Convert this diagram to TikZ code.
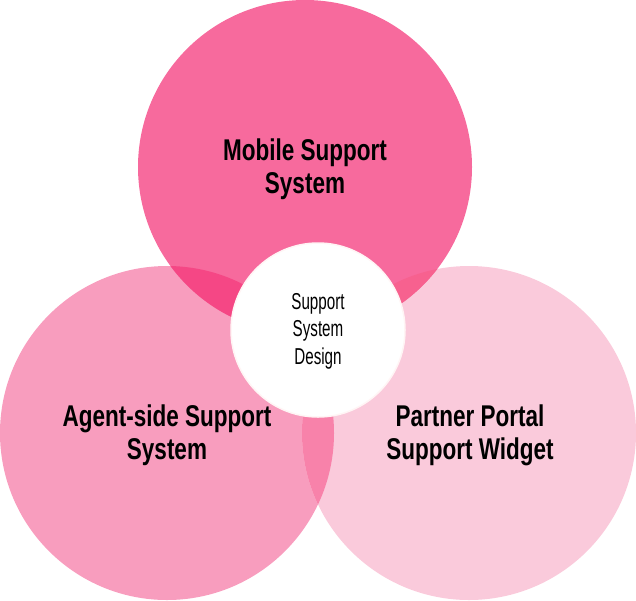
\documentclass[tikz,border=0pt]{standalone}
\usepackage{fontspec}
\newfontfamily\boldnarrow[FakeStretch=0.75]{Liberation Sans Bold}
\newfontfamily\regnarrow[FakeStretch=0.66]{Liberation Sans}
\definecolor{ctop}{HTML}{F76A9D}
\definecolor{cleft}{HTML}{F89DBE}
\definecolor{cright}{HTML}{FACADB}
\definecolor{clr}{HTML}{F882AA}
\definecolor{ctl}{HTML}{F54785}
\definecolor{ctr}{HTML}{F7618F}
\tikzset{
  bigtext/.style={font=\boldnarrow\fontsize{30}{33}\selectfont, align=center, text=black},
  smalltext/.style={font=\regnarrow\fontsize{23}{27.5}\selectfont, align=center, text=black}
}
\begin{document}
\begin{tikzpicture}[x=1pt,y=-1pt]
\useasboundingbox (0,0) rectangle (636,600);
\def\R{167}
\coordinate (T) at (305,167);
\coordinate (L) at (167,433);
\coordinate (Rt) at (469,433);
\fill[cleft] (L) circle (\R);
\fill[cright] (Rt) circle (\R);
\fill[ctop] (T) circle (\R);
\begin{scope}
  \clip (L) circle (\R);
  \fill[clr] (Rt) circle (\R);
  \fill[ctl] (T) circle (\R);
\end{scope}
\begin{scope}
  \clip (Rt) circle (\R);
  \fill[ctr] (T) circle (\R);
\end{scope}
\fill[white, draw=white!85!pink, line width=1.5pt] (318,330) circle (87);
\node[smalltext] (c) at (318,331) {Support\\System\\Design};
\node[bigtext] (t) at (305,169) {Mobile Support\\System};
\node[bigtext] (l) at (167,435) {Agent-side Support\\System};
\node[bigtext] (r) at (470,435) {Partner Portal\\Support Widget};
\end{tikzpicture}
\end{document}
